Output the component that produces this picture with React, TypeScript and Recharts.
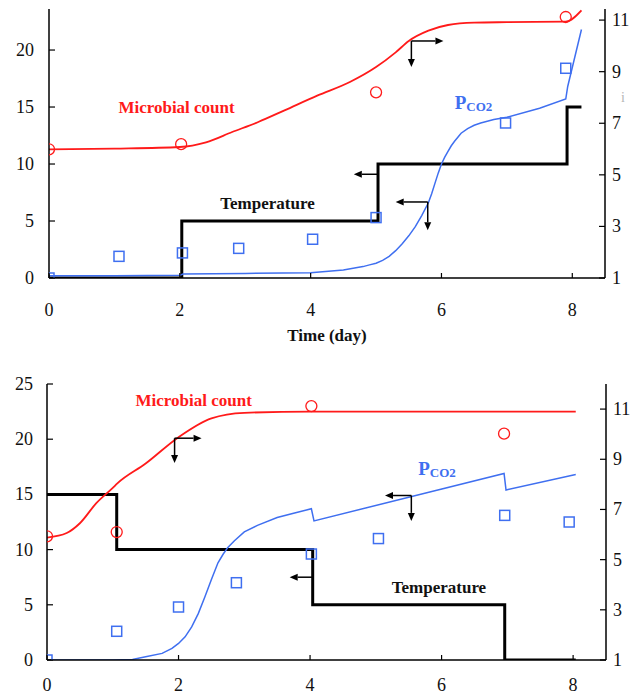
import React from "react";
import { ComposedChart, Line, Scatter, XAxis, YAxis, ReferenceLine, ReferenceDot } from "recharts";

const FONT = "'Liberation Serif', 'Times New Roman', Times, serif";
const RED = "#ff1a1a";
const BLUE = "#3f6ff0";

// ---- shared axis ticks ----
const xTicks = [0, 2, 4, 6, 8];

// ---- top panel data (t in days) ----
// microbial count, read against the right axis
const topMicrobialLine = [
  { t: 0, v: 5.99 }, { t: 1, v: 6.02 }, { t: 2, v: 6.08 }, { t: 2.4, v: 6.26 },
  { t: 2.8, v: 6.66 }, { t: 3.2, v: 7.05 }, { t: 3.6, v: 7.5 }, { t: 4.1, v: 8.07 },
  { t: 4.6, v: 8.6 }, { t: 5.0, v: 9.18 }, { t: 5.3, v: 9.75 }, { t: 5.5, v: 10.19 },
  { t: 5.8, v: 10.59 }, { t: 6.1, v: 10.81 }, { t: 6.5, v: 10.9 }, { t: 7.0, v: 10.92 },
  { t: 7.9, v: 10.94 }, { t: 8.14, v: 11.38 },
];
const topMicrobialObs = [
  { t: 0, v: 5.99 }, { t: 2.02, v: 6.19 }, { t: 5.0, v: 8.2 }, { t: 7.9, v: 11.12 },
];
// PCO2, left axis
const topCO2Line = [
  { t: 0, v: 0.2 }, { t: 1, v: 0.2 }, { t: 2, v: 0.25 }, { t: 2.05, v: 0.35 },
  { t: 3, v: 0.4 }, { t: 4, v: 0.45 }, { t: 4.5, v: 0.7 }, { t: 4.8, v: 1.0 },
  { t: 4.9, v: 1.15 }, { t: 5.0, v: 1.3 }, { t: 5.1, v: 1.55 }, { t: 5.2, v: 1.9 },
  { t: 5.3, v: 2.4 }, { t: 5.4, v: 3.0 }, { t: 5.5, v: 3.7 }, { t: 5.6, v: 4.5 },
  { t: 5.7, v: 5.5 }, { t: 5.8, v: 6.6 }, { t: 5.85, v: 7.4 }, { t: 5.9, v: 8.3 },
  { t: 5.95, v: 9.2 }, { t: 6.0, v: 10.0 }, { t: 6.05, v: 10.6 }, { t: 6.1, v: 11.1 },
  { t: 6.15, v: 11.6 }, { t: 6.2, v: 12.0 }, { t: 6.3, v: 12.7 }, { t: 6.4, v: 13.1 },
  { t: 6.5, v: 13.4 }, { t: 6.6, v: 13.6 }, { t: 6.8, v: 13.9 }, { t: 7.0, v: 14.1 },
  { t: 7.5, v: 14.9 }, { t: 7.9, v: 15.7 }, { t: 7.93, v: 16.8 }, { t: 8.14, v: 21.8 },
];
const topCO2Obs = [
  { t: 0, v: 0 }, { t: 1.07, v: 1.9 }, { t: 2.04, v: 2.2 }, { t: 2.9, v: 2.6 },
  { t: 4.03, v: 3.4 }, { t: 5.0, v: 5.3 }, { t: 6.98, v: 13.6 }, { t: 7.9, v: 18.4 },
];
// temperature, left axis (step after)
const topTemp = [
  { t: 0, v: 0 }, { t: 2.03, v: 5 }, { t: 5.03, v: 10 }, { t: 7.92, v: 15 }, { t: 8.14, v: 15 },
];
const topLeftTicks = [0, 5, 10, 15, 20];
const topRightTicks = [1, 3, 5, 7, 8, 9, 10.3, 11];
const topFaintTicks = [8, 10.3];

// ---- bottom panel data ----
const botMicrobialLine = [
  { t: 0, v: 5.88 }, { t: 0.3, v: 6.06 }, { t: 0.5, v: 6.45 }, { t: 0.75, v: 7.25 },
  { t: 1.0, v: 7.86 }, { t: 1.07, v: 8.04 }, { t: 1.5, v: 8.83 }, { t: 2.0, v: 9.88 },
  { t: 2.5, v: 10.63 }, { t: 3.0, v: 10.85 }, { t: 4.0, v: 10.9 }, { t: 8.04, v: 10.9 },
];
const botMicrobialObs = [
  { t: 0, v: 5.93 }, { t: 1.06, v: 6.1 }, { t: 4.02, v: 11.12 }, { t: 6.95, v: 10.02 },
];
const botCO2Line = [
  { t: 0, v: 0 }, { t: 1.0, v: 0 }, { t: 1.3, v: 0.05 }, { t: 1.5, v: 0.3 },
  { t: 1.75, v: 0.6 }, { t: 1.9, v: 1.05 }, { t: 2.0, v: 1.5 }, { t: 2.1, v: 2.1 },
  { t: 2.2, v: 3.0 }, { t: 2.3, v: 4.2 }, { t: 2.4, v: 5.7 }, { t: 2.5, v: 7.3 },
  { t: 2.6, v: 8.8 }, { t: 2.68, v: 9.6 }, { t: 2.75, v: 10.2 }, { t: 2.85, v: 10.8 },
  { t: 3.0, v: 11.6 }, { t: 3.2, v: 12.2 }, { t: 3.5, v: 12.9 }, { t: 3.75, v: 13.3 },
  { t: 4.02, v: 13.7 }, { t: 4.06, v: 12.6 }, { t: 6.95, v: 16.9 }, { t: 6.98, v: 15.4 },
  { t: 8.04, v: 16.8 },
];
const botCO2Obs = [
  { t: 0, v: 0 }, { t: 1.06, v: 2.6 }, { t: 2.0, v: 4.8 }, { t: 2.88, v: 7.0 },
  { t: 4.02, v: 9.6 }, { t: 5.04, v: 11.0 }, { t: 6.96, v: 13.1 }, { t: 7.94, v: 12.5 },
];
const botTemp = [
  { t: 0, v: 15 }, { t: 1.06, v: 10 }, { t: 4.04, v: 5 }, { t: 6.96, v: 0 }, { t: 8.04, v: 0 },
];
const botLeftTicks = [0, 5, 10, 15, 20, 25];
const botRightTicks = [1, 3, 5, 7, 9, 11];

// ---- annotations: arrows (data coords) and curve labels ----
const topArrows = [
  { axis: "right", x1: 5.54, y1: 10.19, x2: 6.03, y2: 10.19 },
  { axis: "right", x1: 5.54, y1: 10.19, x2: 5.54, y2: 9.18 },
  { axis: "left", x1: 5.03, y1: 9.1, x2: 4.66, y2: 9.1 },
  { axis: "left", x1: 5.79, y1: 6.67, x2: 5.3, y2: 6.67 },
  { axis: "left", x1: 5.79, y1: 6.67, x2: 5.79, y2: 4.2 },
];
const botArrows = [
  { axis: "right", x1: 1.94, y1: 9.84, x2: 2.35, y2: 9.84 },
  { axis: "right", x1: 1.94, y1: 9.84, x2: 1.94, y2: 8.85 },
  { axis: "left", x1: 4.04, y1: 7.5, x2: 3.69, y2: 7.5 },
  { axis: "left", x1: 5.54, y1: 14.9, x2: 5.14, y2: 14.9 },
  { axis: "left", x1: 5.54, y1: 14.9, x2: 5.54, y2: 12.6 },
];
const topLabels = [
  { kind: "microbial", t: 1.95, v: 15.0 },
  { kind: "temp", t: 3.34, v: 6.5 },
  { kind: "co2", t: 6.49, v: 15.4 },
];
const botLabels = [
  { kind: "microbial", t: 2.23, v: 23.55 },
  { kind: "co2", t: 5.93, v: 17.4 },
  { kind: "temp", t: 5.96, v: 6.6 },
];

const txt = { fontFamily: FONT };

// ---- tick renderers (inward tick marks) ----
const LeftTick = ({ x, y, payload, gap }: any) => (
  <g>
    <line x1={x} y1={y} x2={x + 6} y2={y} stroke="#000" strokeWidth={1.2} />
    <text x={x - gap} y={y} textAnchor="end" dominantBaseline="central" fontSize={18} style={txt} fill="#111">
      {payload.value}
    </text>
  </g>
);

const RightTick = ({ x, y, payload }: any) => {
  if (topFaintTicks.includes(payload.value)) {
    return (
      <text x={x + 18} y={y} textAnchor="middle" dominantBaseline="central" fontSize={14} style={txt} fill="#b5b5b5">
        i
      </text>
    );
  }
  return (
    <g>
      <line x1={x} y1={y} x2={x - 6} y2={y} stroke="#000" strokeWidth={1.2} />
      <text x={x + 7} y={y} textAnchor="start" dominantBaseline="central" fontSize={18} style={txt} fill="#111">
        {payload.value}
      </text>
    </g>
  );
};

const BottomTick = ({ x, y, payload, offset }: any) => (
  <g>
    <line x1={x} y1={y} x2={x} y2={y - 5} stroke="#000" strokeWidth={1.2} />
    <text x={x} y={y + offset} textAnchor="middle" dominantBaseline="central" fontSize={18} style={txt} fill="#111">
      {payload.value}
    </text>
  </g>
);

const AxisTitle = ({ viewBox }: any) => (
  <text
    x={viewBox.x + viewBox.width / 2}
    y={viewBox.y + 57}
    textAnchor="middle"
    dominantBaseline="central"
    fontSize={17}
    fontWeight="bold"
    style={txt}
    fill="#111"
  >
    Time (day)
  </text>
);

const Circle = ({ cx, cy }: any) => <circle cx={cx} cy={cy} r={5.5} fill="none" stroke={RED} strokeWidth={1.3} />;
const Square = ({ cx, cy }: any) => (
  <rect x={cx - 5} y={cy - 5} width={10} height={10} fill="none" stroke={BLUE} strokeWidth={1.5} />
);

const Arrow = ({ x1, y1, x2, y2 }: any) => {
  const ang = Math.atan2(y2 - y1, x2 - x1);
  const len = 8;
  const hw = 3.5;
  const bx = x2 - len * Math.cos(ang);
  const by = y2 - len * Math.sin(ang);
  const px = -Math.sin(ang) * hw;
  const py = Math.cos(ang) * hw;
  return (
    <g>
      <line x1={x1} y1={y1} x2={bx} y2={by} stroke="#000" strokeWidth={1.5} />
      <path d={`M${x2},${y2} L${bx + px},${by + py} L${bx - px},${by - py} Z`} fill="#000" />
    </g>
  );
};

const CurveLabel = ({ cx, cy, kind }: any) => {
  if (kind === "co2") {
    return (
      <text x={cx} y={cy} textAnchor="middle" dominantBaseline="central" fontWeight="bold" style={txt} fill={BLUE}>
        <tspan fontSize={19}>P</tspan>
        <tspan fontSize={13} dy={4}>CO2</tspan>
      </text>
    );
  }
  const microbial = kind === "microbial";
  return (
    <text
      x={cx}
      y={cy}
      textAnchor="middle"
      dominantBaseline="central"
      fontSize={17}
      fontWeight="bold"
      style={txt}
      fill={microbial ? RED : "#111"}
    >
      {microbial ? "Microbial count" : "Temperature"}
    </text>
  );
};

const axisLine = { stroke: "#000", strokeWidth: 1.5 };

function annotations(arrows: any[], labels: any[], prefix: string) {
  return [
    ...arrows.map((a, i) => (
      <ReferenceLine
        key={`${prefix}-arrow-${i}`}
        yAxisId={a.axis}
        segment={[{ x: a.x1, y: a.y1 }, { x: a.x2, y: a.y2 }]}
        shape={(p: any) => <Arrow {...p} />}
      />
    )),
    ...labels.map((l, i) => (
      <ReferenceDot
        key={`${prefix}-label-${i}`}
        yAxisId="left"
        x={l.t}
        y={l.v}
        r={0}
        shape={(p: any) => <CurveLabel {...p} kind={l.kind} />}
      />
    )),
  ];
}

export default function App() {
  return (
    <div style={{ position: "absolute", left: 0, top: 0, width: 639, height: 694, background: "#fff", fontFamily: FONT }}>
      <div style={{ position: "absolute", left: 0, top: 0 }}>
        <ComposedChart width={639} height={350} margin={{ top: 9, right: 0, bottom: 0, left: 0 }}>
          <XAxis
            type="number"
            dataKey="t"
            domain={[0, 8.5]}
            ticks={xTicks}
            allowDataOverflow
            height={72}
            tickSize={0}
            tickMargin={0}
            tickLine={false}
            axisLine={axisLine}
            tick={<BottomTick offset={32} />}
            label={<AxisTitle />}
          />
          <YAxis
            yAxisId="left"
            type="number"
            domain={[0, 23.6]}
            ticks={topLeftTicks}
            allowDataOverflow
            width={49}
            tickSize={0}
            tickMargin={0}
            tickLine={false}
            axisLine={axisLine}
            tick={<LeftTick gap={15} />}
          />
          <YAxis
            yAxisId="right"
            orientation="right"
            type="number"
            domain={[1, 11.43]}
            ticks={topRightTicks}
            allowDataOverflow
            width={34}
            tickSize={0}
            tickMargin={0}
            tickLine={false}
            axisLine={axisLine}
            tick={<RightTick />}
          />
          <Line yAxisId="left" data={topTemp} dataKey="v" type="stepAfter" stroke="#000" strokeWidth={3} dot={false} activeDot={false} isAnimationActive={false} />
          <Line yAxisId="left" data={topCO2Line} dataKey="v" type="linear" stroke={BLUE} strokeWidth={1.5} dot={false} activeDot={false} isAnimationActive={false} />
          <Line yAxisId="right" data={topMicrobialLine} dataKey="v" type="monotone" stroke={RED} strokeWidth={1.8} dot={false} activeDot={false} isAnimationActive={false} />
          <Scatter yAxisId="left" data={topCO2Obs} dataKey="v" shape={<Square />} isAnimationActive={false} />
          <Scatter yAxisId="right" data={topMicrobialObs} dataKey="v" shape={<Circle />} isAnimationActive={false} />
          {annotations(topArrows, topLabels, "top")}
        </ComposedChart>
      </div>
      <div style={{ position: "absolute", left: 0, top: 350 }}>
        <ComposedChart width={639} height={344} margin={{ top: 34, right: 0, bottom: 0, left: 0 }}>
          <XAxis
            type="number"
            dataKey="t"
            domain={[0, 8.5]}
            ticks={xTicks}
            allowDataOverflow
            height={34}
            tickSize={0}
            tickMargin={0}
            tickLine={false}
            axisLine={axisLine}
            tick={<BottomTick offset={25} />}
          />
          <XAxis
            xAxisId="top"
            orientation="top"
            type="number"
            domain={[0, 8.5]}
            allowDataOverflow
            height={0}
            tick={false}
            tickLine={false}
            axisLine={axisLine}
          />
          <YAxis
            yAxisId="left"
            type="number"
            domain={[0, 25]}
            ticks={botLeftTicks}
            allowDataOverflow
            width={47}
            tickSize={0}
            tickMargin={0}
            tickLine={false}
            axisLine={axisLine}
            tick={<LeftTick gap={14} />}
          />
          <YAxis
            yAxisId="right"
            orientation="right"
            type="number"
            domain={[1, 12]}
            ticks={botRightTicks}
            allowDataOverflow
            width={33}
            tickSize={0}
            tickMargin={0}
            tickLine={false}
            axisLine={axisLine}
            tick={<RightTick />}
          />
          <Line yAxisId="left" data={botTemp} dataKey="v" type="stepAfter" stroke="#000" strokeWidth={3} dot={false} activeDot={false} isAnimationActive={false} />
          <Line yAxisId="left" data={botCO2Line} dataKey="v" type="linear" stroke={BLUE} strokeWidth={1.5} dot={false} activeDot={false} isAnimationActive={false} />
          <Line yAxisId="right" data={botMicrobialLine} dataKey="v" type="monotone" stroke={RED} strokeWidth={1.8} dot={false} activeDot={false} isAnimationActive={false} />
          <Scatter yAxisId="left" data={botCO2Obs} dataKey="v" shape={<Square />} isAnimationActive={false} />
          <Scatter yAxisId="right" data={botMicrobialObs} dataKey="v" shape={<Circle />} isAnimationActive={false} />
          {annotations(botArrows, botLabels, "bot")}
        </ComposedChart>
      </div>
    </div>
  );
}
